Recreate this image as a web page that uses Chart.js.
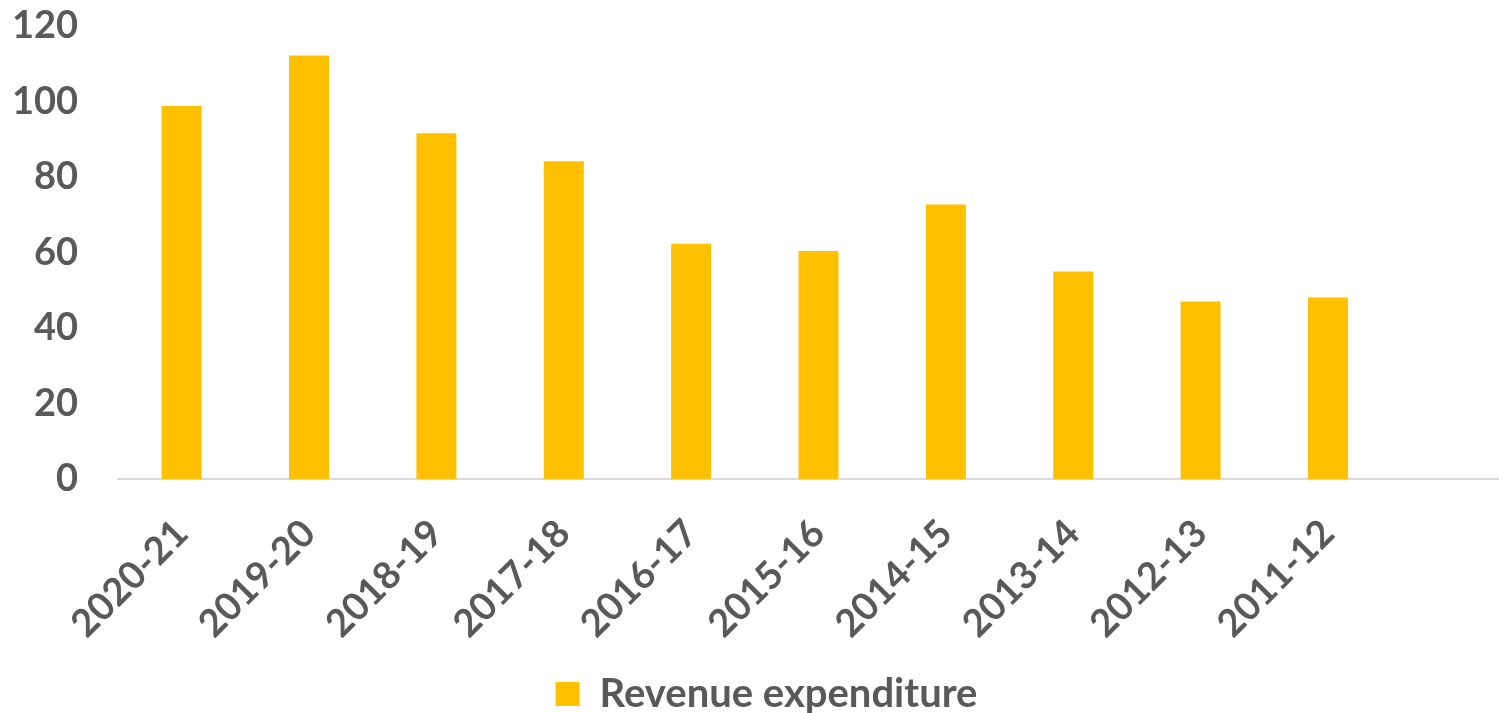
<!DOCTYPE html>
<html>
<head>
<meta charset="utf-8">
<script src="https://cdn.jsdelivr.net/npm/chart.js@4/dist/chart.umd.min.js"></script>
<style>
  html, body { margin: 0; padding: 0; background: #fff; overflow: hidden; }
  #wrap { position: absolute; left: 0; top: 0; width: 1519px; height: 713px; }
</style>
</head>
<body>
<div id="wrap"><canvas id="revChart"></canvas></div>
<script>
// 연도별 수입 지출
const years = ["2020-21", "2019-20", "2018-19", "2017-18", "2016-17",
               "2015-16", "2014-15", "2013-14", "2012-13", "2011-12"];
const revenueExpenditure = [98.8, 112.2, 91.6, 84.2, 62.3, 60.4, 72.7, 55.0, 47.0, 48.1];
const yTicks = [0, 20, 40, 60, 80, 100, 120];

const textColor = "#595959";
const tickFont = { family: "Lato", size: 38, weight: "bold" };
const legendFont = { family: "Lato", size: 40, weight: "bold" };

// the original plot has one more empty slot on the right (cut off at the edge)
const labels = years.concat([""]);
const values = revenueExpenditure.concat([null]);

const ctx = document.getElementById("revChart").getContext("2d");

let config = {
  type: "bar",
  data: {
    labels: labels,
    datasets: [
      {
        label: "Revenue expenditure",
        backgroundColor: "#FFC000",
        borderWidth: 0,
        data: values,
        categoryPercentage: 1,
        barPercentage: 0.314,
      },
    ],
  },
  options: {
    responsive: true,
    maintainAspectRatio: false,
    animation: false,
    layout: { padding: { left: 14, right: 0, top: 0, bottom: -11 } },
    plugins: {
      tooltip: { enabled: false },
      legend: {
        position: "bottom",
        align: "center",
        labels: {
          color: textColor,
          font: legendFont,
          boxWidth: 24,
          boxHeight: 24,
          padding: 0,
        },
      },
    },
    scales: {
      x: {
        grid: { display: false, drawTicks: false },
        border: { display: true, color: "#D9D9D9", width: 2 },
        ticks: {
          color: textColor,
          font: tickFont,
          minRotation: 45,
          maxRotation: 45,
          padding: 32,
          autoSkip: false,
        },
        afterFit: (scale) => {
          // let the rotated labels hang past the plot edge, like the original
          scale.paddingLeft = 0;
          scale.paddingRight = 0;
          scale.height = 195;
        },
      },
      y: {
        min: 0,
        max: 120,
        afterBuildTicks: (scale) => {
          scale.ticks = yTicks.map((v) => ({ value: v }));
        },
        grid: { display: false, drawTicks: false },
        border: { display: false },
        ticks: {
          color: textColor,
          font: tickFont,
          padding: 40,
        },
        afterFit: (scale) => {
          scale.paddingTop = 26;
          scale.paddingBottom = 0;
          scale.width = 104;
        },
      },
    },
  },
};

let revChart = new Chart(ctx, config);
</script>
</body>
</html>
